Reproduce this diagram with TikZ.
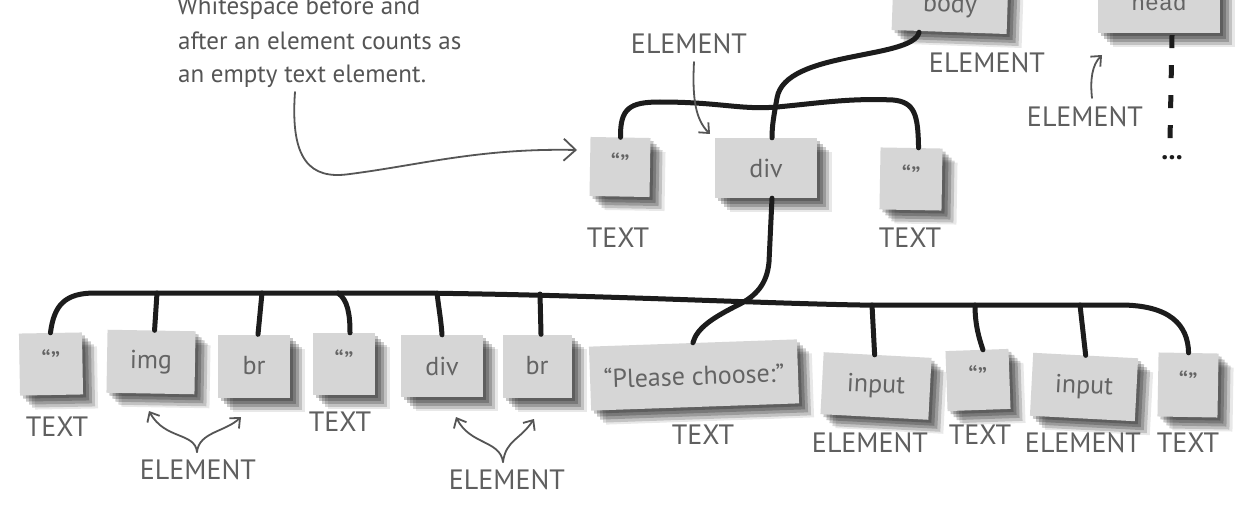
\documentclass[tikz,border=0pt]{standalone}
\usepackage{fontspec}
\setmainfont{PT Sans}
\newfontfamily\monofnt{Liberation Mono}
\usetikzlibrary{arrows.meta,shadows}
\definecolor{boxgray}{RGB}{214,214,214}
\definecolor{boxtext}{RGB}{100,100,100}
\definecolor{lbltext}{RGB}{95,95,95}
\definecolor{linecol}{RGB}{28,28,28}
\definecolor{notecol}{RGB}{85,85,85}
\newcommand{\wsq}{\raisebox{7pt}{\fontsize{28}{28}\selectfont “”}}
\begin{document}
\begin{tikzpicture}[x=1pt,y=-1pt,
  shd/.style={
    drop shadow={shadow xshift=3pt,shadow yshift=-3pt,opacity=.22,fill=black},
    drop shadow={shadow xshift=6pt,shadow yshift=-6pt,opacity=.22,fill=black},
    drop shadow={shadow xshift=9pt,shadow yshift=-9pt,opacity=.20,fill=black},
    drop shadow={shadow xshift=12pt,shadow yshift=-12pt,opacity=.16,fill=black},
    drop shadow={shadow xshift=15pt,shadow yshift=-14pt,opacity=.09,fill=black}},
  box/.style={fill=boxgray, inner sep=0pt, text=boxtext, font=\fontsize{26}{30}\selectfont, shd},
  lbl/.style={text=lbltext, inner sep=0pt, font=\fontsize{28}{30}\selectfont},
  notetext/.style={text=notecol, inner sep=0pt, anchor=base west, font=\fontsize{25}{28}\selectfont},
  conn/.style={draw=linecol, line width=5pt, line cap=round},
  notearrow/.style={draw=notecol, line width=1.8pt, line cap=round, -{Straight Barb[length=12pt,width=22pt]}},
  curly/.style={draw=notecol, line width=1.8pt, line cap=round, -{Straight Barb[length=8pt,width=14pt]}}
]
\useasboundingbox (0,0) rectangle (1247,508);
\clip (0,0) rectangle (1247,508);
\fill[white] (0,0) rectangle (1247,508);

% top boxes
\node[box, minimum width=115pt, minimum height=52pt, rotate=-2] (body) at (950,6) {body};
\node[box, minimum width=122pt, minimum height=62pt, font=\monofnt\fontsize{23}{26}\selectfont] (head) at (1159,2) {head};

% second row
\node[box, minimum width=60pt, minimum height=59pt, rotate=-1] (w1) at (620,167) {\wsq};
\node[box, minimum width=102pt, minimum height=60pt] (d1) at (766,168) {div};
\node[box, minimum width=62pt, minimum height=62pt, rotate=-1] (w2) at (911,179) {\wsq};

% bottom row
\node[box, minimum width=63pt, minimum height=62pt, rotate=1] (t1) at (51,364) {\wsq};
\node[box, minimum width=88pt, minimum height=63pt, rotate=-1] (t2) at (151,362) {img};
\node[box, minimum width=72pt, minimum height=63pt] (t3) at (254,366) {br};
\node[box, minimum width=62pt, minimum height=62pt] (t4) at (344,364) {\wsq};
\node[box, minimum width=82pt, minimum height=62pt] (t5) at (442,366) {div};
\node[box, minimum width=69pt, minimum height=63pt] (t6) at (537,366) {br};
\node[box, minimum width=208pt, minimum height=64pt, rotate=2] (t7) at (694,375) {“Please choose:”};
\node[box, minimum width=108pt, minimum height=62pt, rotate=-3] (t8) at (876,386) {input};
\node[box, minimum width=63pt, minimum height=60pt, rotate=2] (t9) at (978,380) {\wsq};
\node[box, minimum width=105pt, minimum height=63pt, rotate=-3] (t10) at (1084,387) {input};
\node[box, minimum width=60pt, minimum height=64pt, rotate=-1] (t11) at (1188,385) {\wsq};

% labels
\node[lbl] (lbody) at (987,63) {ELEMENT};
\node[lbl] (lhead) at (1085,117) {ELEMENT};
\node[lbl] (ld1) at (689,44) {ELEMENT};
\node[lbl] (lw1) at (618,238) {TEXT};
\node[lbl] (lw2) at (910,238) {TEXT};
\node[lbl] (l1) at (57,427) {TEXT};
\node[lbl] (l4) at (340,422) {TEXT};
\node[lbl] (le1) at (198,470) {ELEMENT};
\node[lbl] (le2) at (507,480) {ELEMENT};
\node[lbl] (l7) at (703,435) {TEXT};
\node[lbl] (l8) at (870,443) {ELEMENT};
\node[lbl] (l9) at (980,435) {TEXT};
\node[lbl] (l10) at (1083,443) {ELEMENT};
\node[lbl] (l11) at (1188,443) {TEXT};

% annotation
\node[notetext] (ann1) at (177,15) {Whitespace before and};
\node[notetext] (ann2) at (178,50) {after an element counts as};
\node[notetext] (ann3) at (178,83) {an empty text element.};

% connectors
\draw[conn] ([xshift=-30pt]body.south) .. controls (913,60) and (785,50) .. (777,98)
  .. controls (774,115) and (772,125) .. ([xshift=6pt]d1.north);
\draw[conn] (w1.north) .. controls (620,108) and (630,102) .. (660,102)
  .. controls (720,102) and (740,110) .. (777,107)
  .. controls (820,103) and (850,98) .. (893,100)
  .. controls (915,102) and (918,115) .. ([xshift=7pt]w2.north);
\draw[conn] ([xshift=6pt]d1.south) -- (769,262) .. controls (767,285) and (755,296) .. (740,304)
  .. controls (712,318) and (697,328) .. (t7.north);
\draw[conn] (t1.north) .. controls (54,305) and (65,293) .. (95,293) -- (415,293)
  .. controls (600,295) and (750,303) .. (860,305) -- (1120,305)
  .. controls (1170,305) and (1188,325) .. (t11.north);
\coordinate (s2) at (157,293);
\coordinate (s3) at (262,293);
\coordinate (s4) at (338,293);
\coordinate (s5) at (437,293);
\coordinate (s6) at (540,294);
\coordinate (s8) at (872,305);
\coordinate (s9) at (975,305);
\coordinate (s10) at (1080,305);
\draw[conn] (s2) -- ([xshift=3pt]t2.north);
\draw[conn] (s3) -- ([xshift=4pt]t3.north);
\draw[conn] (s4) .. controls (348,300) and (350,315) .. ([xshift=6pt]t4.north);
\draw[conn] (s5) .. controls (439,310) and (441,320) .. (t5.north);
\draw[conn] (s6) -- ([xshift=4pt]t6.north);
\draw[conn] (s8) -- ([xshift=-3pt]t8.north);
\draw[conn] (s9) .. controls (975,325) and (979,338) .. ([xshift=6pt]t9.north);
\draw[conn] (s10) -- (t10.north);

% head dashed line
\coordinate (hd) at (1170,140);
\draw[draw=linecol, line width=5pt, dash pattern=on 13pt off 17pt] ([xshift=13pt,yshift=-2pt]head.south) -- (hd);
\node[text=linecol, inner sep=0pt, font=\bfseries\fontsize{28}{28}\selectfont] (dots) at (1172,158) {...};

% annotation arrows
\coordinate (annStart) at (295,92);
\coordinate (annTip) at (577,150);
\draw[notearrow] (annStart) .. controls (290,160) and (310,180) .. (350,174)
  .. controls (420,165) and (480,148) .. (annTip);
\draw[curly] (694,62) .. controls (692,100) and (696,120) .. (710,134);
\draw[curly] (1092,98) .. controls (1090,80) and (1092,65) .. (1102,55);
\coordinate (e1b) at (197,452);
\draw[curly] (e1b) .. controls (195,432) and (165,440) .. (149,411);
\draw[curly] (e1b) .. controls (199,432) and (225,432) .. (241,417);
\coordinate (e2b) at (503,462);
\draw[curly] (e2b) .. controls (500,440) and (470,445) .. (456,417);
\draw[curly] (e2b) .. controls (506,440) and (520,440) .. (534,419);
\end{tikzpicture}
\end{document}
